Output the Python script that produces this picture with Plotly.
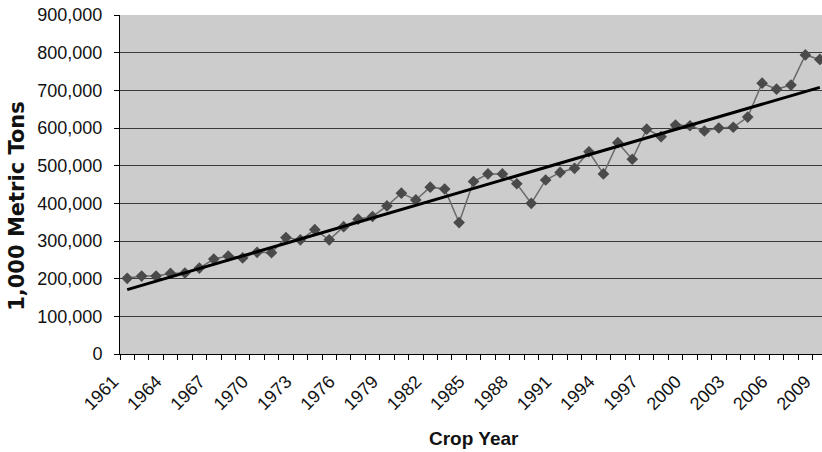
import plotly.graph_objects as go

years = list(range(1961, 2010))
production = [
    201, 207, 207, 214, 215, 228, 252, 260, 255, 270,
    269, 309, 303, 330, 303, 338, 358, 365, 393, 427,
    409, 443, 438, 349, 458, 478, 478, 452, 400, 462,
    482, 493, 537, 478, 561, 517, 597, 577, 608, 606,
    592, 600, 602, 629, 719, 703, 714, 794, 782,
]
production = [v * 1000 for v in production]

trend_years = [1961, 2009]
trend_values = [171000, 708000]

label_years = list(range(1961, 2010, 3))
label_text = [str(y) for y in label_years]
boundaries = [y + 0.5 for y in range(1960, 2009)]
y_ticks = list(range(0, 900001, 100000))
y_text = [f"{v:,}" for v in y_ticks]

fig = go.Figure()
fig.add_trace(go.Scatter(
    x=years, y=production, mode="lines+markers",
    line=dict(color="#6a6a6a", width=1.5),
    marker=dict(symbol="diamond", size=9, color="#4a4a4a"),
    showlegend=False,
))
fig.add_trace(go.Scatter(
    x=trend_years, y=trend_values, mode="lines",
    line=dict(color="#000000", width=3),
    showlegend=False,
))

font_family = "Liberation Sans, Arial, sans-serif"

fig.update_layout(
    width=822, height=452,
    margin=dict(l=120, r=0, t=15, b=97.7, pad=0, autoexpand=False),
    paper_bgcolor="white",
    plot_bgcolor="#cccccc",
    font=dict(family=font_family, size=18, color="#111111"),
    xaxis=dict(
        range=[1960.5, 2009.15],
        automargin=False,
        tickmode="array", tickvals=label_years, ticktext=label_text,
        ticks="", tickangle=-45,
        showgrid=False, zeroline=False,
        showline=True, linecolor="black", linewidth=1,
        minor=dict(tickmode="array", tickvals=boundaries, ticks="outside",
                   ticklen=5, tickcolor="black", tickwidth=1, showgrid=False),
        tickfont=dict(size=18),
        ticklabelshift=-14,
        ticklabelstandoff=9,
    ),
    yaxis=dict(
        range=[0, 900000],
        automargin=False,
        tickmode="array", tickvals=y_ticks, ticktext=y_text,
        ticks="outside", ticklen=5, tickcolor="black",
        showgrid=True, gridcolor="#3a3a3a", gridwidth=1,
        zeroline=False,
        showline=True, linecolor="black", linewidth=1,
        tickfont=dict(size=18),
        ticklabelstandoff=8,
    ),
    annotations=[
        dict(text="<b>1,000 Metric Tons</b>", textangle=-90,
             xref="paper", yref="paper", x=0, y=(354.3 - 206.5) / 339.3,
             xanchor="center", yanchor="middle", xshift=-102.5,
             showarrow=False,
             font=dict(family="DejaVu Sans, sans-serif", size=21, color="#111111")),
        dict(text="<b>Crop Year</b>",
             xref="paper", yref="paper", x=(473.5 - 120) / 702, y=0,
             xanchor="center", yanchor="middle", yshift=-(439 - 354.3),
             showarrow=False,
             font=dict(family=font_family, size=19, color="#111111")),
    ],
)

fig.write_html(
    "out.html",
    config={"displayModeBar": False},
    post_script="document.body.style.margin='0';document.body.style.overflow='hidden';",
)
